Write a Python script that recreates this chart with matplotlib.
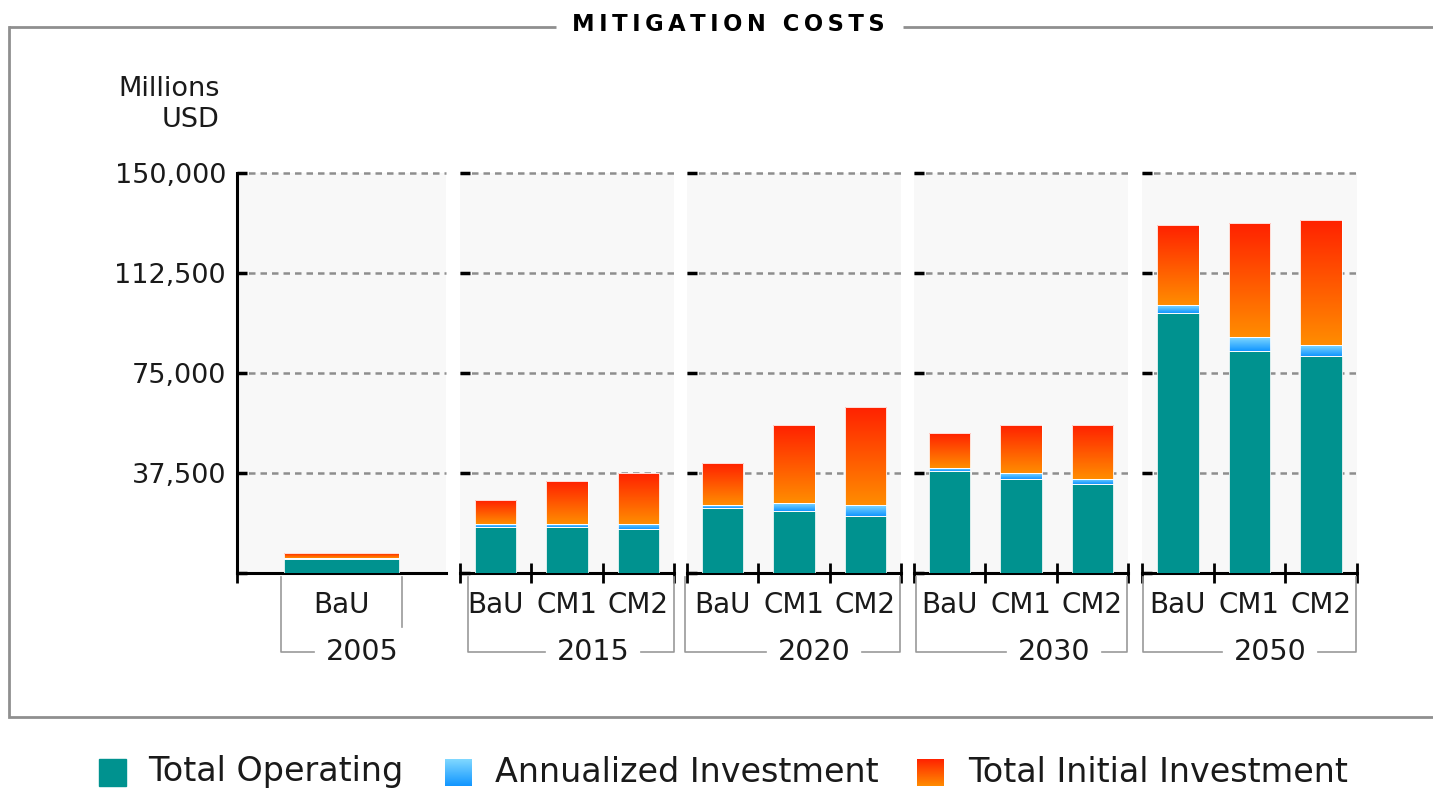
import numpy as np
import matplotlib
matplotlib.use("Agg")
import matplotlib.pyplot as plt
from matplotlib.colors import to_rgb

years = ["2005", "2015", "2020", "2030", "2050"]
scenarios = [["BaU"], ["BaU", "CM1", "CM2"], ["BaU", "CM1", "CM2"], ["BaU", "CM1", "CM2"], ["BaU", "CM1", "CM2"]]

# Millions USD, one value per bar, in the order of the scenarios above
total_operating = [5250, 17400, 17400, 16400, 24400, 23250, 21400, 38250, 35250, 33400, 97500, 83250, 81400]
annualized_investment = [300, 1000, 1000, 2000, 1100, 3000, 4100, 1100, 2250, 1900, 3000, 5250, 4100]
total_initial_investment = [1850, 9000, 16100, 19100, 15750, 29250, 36750, 13100, 18000, 20250, 30000, 42750, 46900]

y_ticks = [0, 37500, 75000, 112500, 150000]
y_labels = ["", "37,500", "75,000", "112,500", "150,000"]

TEAL = "#00928F"
BLUE = ("#80D8FF", "#1296FF")
ORANGE = ("#FF2200", "#FF8C00")
TXT = "#1a1a1a"
LINE = "#999999"

W, H = 1433, 789
fig = plt.figure(figsize=(W / 100, H / 100), dpi=100)
plt.rcParams["font.family"] = ["DejaVu Sans"]


def grad(top, bottom, n=64):
    return np.linspace(to_rgb(top), to_rgb(bottom), n)[:, None, :]


def px_axes(x0, y0, x1, y1):
    return fig.add_axes([x0 / W, 1 - y1 / H, (x1 - x0) / W, (y1 - y0) / H])


# panel extents in pixels
panel_left = [237, 460, 687, 914, 1142]
panel_right = [446, 674, 901, 1128, 1357]
plot_top, plot_bottom = 173, 573

i = 0
for k, year in enumerate(years):
    ax = px_axes(panel_left[k], plot_top, panel_right[k], plot_bottom)
    ax.set_facecolor("#f8f8f8")
    n = len(scenarios[k])
    x = np.arange(n)
    bw = 0.55 if n == 1 else 0.58
    op = total_operating[i:i + n]
    an = annualized_investment[i:i + n]
    ini = total_initial_investment[i:i + n]
    i += n

    ax.bar(x, op, width=bw, color=TEAL, edgecolor="#e8f4f4", linewidth=0.6, zorder=3)
    b1 = np.array(op)
    b2 = b1 + np.array(an)
    for vals, base, cols in [(an, b1, BLUE), (ini, b2, ORANGE)]:
        bars = ax.bar(x, vals, bottom=base, width=bw, color="none",
                      edgecolor="#ffffff", linewidth=0.6, zorder=3)
        for xi, v, b, p in zip(x, vals, base, bars.patches):
            im = ax.imshow(grad(*cols), extent=[xi - bw / 2, xi + bw / 2, b, b + v],
                           aspect="auto", interpolation="bilinear", zorder=2)
            im.set_clip_path(p)

    ax.set_xlim(-0.5, n - 0.5)
    ax.set_ylim(0, 150000)
    ax.set_yticks(y_ticks)
    ax.yaxis.grid(True, color="#8e8e8e", linestyle=(0, (2.6, 2)), linewidth=1.8, zorder=1)
    for gl in ax.get_ygridlines():
        gl.set_clip_on(False)
    ax.set_axisbelow(True)
    for s in ["top", "right"]:
        ax.spines[s].set_visible(False)
    ax.spines["bottom"].set_linewidth(2.2)
    ax.spines["bottom"].set_color("black")
    if k == 0:
        ax.spines["left"].set_linewidth(2.2)
        ax.spines["left"].set_color("black")
        ax.set_yticklabels(y_labels, fontsize=19.5, color=TXT)
        ax.set_xticks([-0.5])
    else:
        ax.spines["left"].set_visible(False)
        ax.tick_params(axis="y", labelleft=False)
        ax.set_xticks(np.arange(n + 1) - 0.5)
    ax.tick_params(axis="y", direction="in", length=7, width=2.5, color="black", pad=8)
    ax.tick_params(axis="x", direction="inout", length=14, width=2, color="black", labelbottom=False)

    for xi, name in zip(x, scenarios[k]):
        ax.text(xi, -32 / 400 * 150000, name, ha="center", va="center",
                fontsize=20, color=TXT, clip_on=False)

# overlay in pixel coordinates for title, frame, brackets and legend
ov = fig.add_axes([0, 0, 1, 1], facecolor="none")
ov.set_xlim(0, W)
ov.set_ylim(H, 0)
ov.axis("off")

ov.plot([9, 556], [27, 27], color="#8f8f8f", lw=2, solid_capstyle="butt")
ov.plot([903, W], [27, 27], color="#8f8f8f", lw=2, solid_capstyle="butt")
ov.plot([9, 9, W], [27, 717, 717], color="#8f8f8f", lw=2, solid_joinstyle="miter")
ov.text(728, 24, "\u2009".join("MITIGATION COSTS"), ha="center", va="center",
        fontsize=16.3, fontweight="bold", color="black")

ov.text(220, 104, "Millions\nUSD", ha="right", va="center", multialignment="right",
        fontsize=19.5, color=TXT, linespacing=1.25)

# group brackets under the category labels
bracket_left = [281, 468, 685, 916, 1143]
bracket_right = [402, 674, 900, 1127, 1356]
year_x = [362, 593, 814, 1054, 1270]
yb = 652
for k, year in enumerate(years):
    l, r, c = bracket_left[k], bracket_right[k], year_x[k]
    ov.plot([l, l, c - 48], [577, yb, yb], color=LINE, lw=1.2)
    if k == 0:
        ov.plot([r, r], [577, 627], color=LINE, lw=1.2)
    else:
        ov.plot([c + 48, r, r], [yb, yb, 577], color=LINE, lw=1.2)
    ov.text(c, yb, year, ha="center", va="center", fontsize=20.5, color=TXT)

# legend
legend_items = [("Total Operating", None, 99, 148),
                ("Annualized Investment", BLUE, 445, 495),
                ("Total Initial Investment", ORANGE, 917, 968)]
for label, cols, sx, tx in legend_items:
    if cols is None:
        ov.add_patch(plt.Rectangle((sx, 759), 27, 27, color=TEAL))
    else:
        ov.imshow(grad(*cols), extent=[sx, sx + 27, 786, 759], aspect="auto",
                  interpolation="bilinear")
    ov.text(tx, 772, label, ha="left", va="center", fontsize=24, color=TXT)
ov.set_xlim(0, W)
ov.set_ylim(H, 0)

fig.savefig("out.png", dpi=100, facecolor="white")
